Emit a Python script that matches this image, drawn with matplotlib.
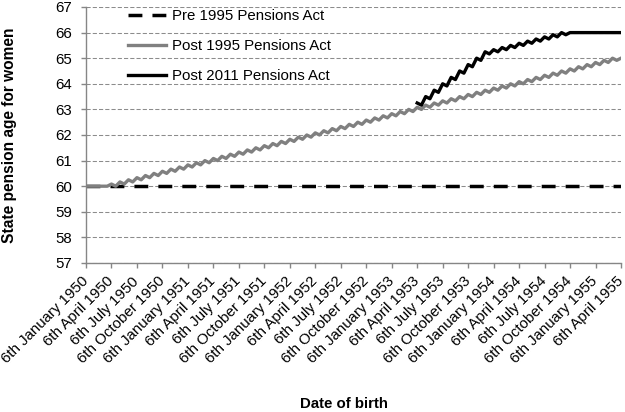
import numpy as np
import matplotlib
matplotlib.use('Agg')
import matplotlib.pyplot as plt
import matplotlib.transforms as mtransforms

plt.rcParams['font.family'] = ['Liberation Sans', 'DejaVu Sans']

# pension age in months above 60, one value per monthly birth cohort
# (cohort = born 6th of a month to 5th of the next month)
# *_start : born on the 6th, *_end : born on the 5th of the following month
# Post 1995 act, cohorts Jan 1950 .. Apr 1955
post1995_start = [0, 0, 0, 1, 2, 3, 4, 5, 6, 7, 8, 9,
                  10, 11, 12, 13, 14, 15, 16, 17, 18, 19, 20, 21,
                  22, 23, 24, 25, 26, 27, 28, 29, 30, 31, 32, 33,
                  34, 35, 36, 37, 38, 39, 40, 41, 42, 43, 44, 45,
                  46, 47, 48, 49, 50, 51, 52, 53, 54, 55, 56, 57,
                  58, 59, 60, 60]
post1995_end = [0, 0, 0, 0, 1, 2, 3, 4, 5, 6, 7, 8,
                9, 10, 11, 12, 13, 14, 15, 16, 17, 18, 19, 20,
                21, 22, 23, 24, 25, 26, 27, 28, 29, 30, 31, 32,
                33, 34, 35, 36, 37, 38, 39, 40, 41, 42, 43, 44,
                45, 46, 47, 48, 49, 50, 51, 52, 53, 54, 55, 56,
                57, 58, 59]
# Post 2011 act, cohorts Apr 1953 .. Apr 1955
post2011_first = 39   # cohort index of 6th April 1953
post2011_start = [39, 42, 45, 48, 51, 54, 57, 60, 63,
                  64, 65, 66, 67, 68, 69, 70, 71, 72, 72, 72, 72,
                  72, 72, 72, 72]
post2011_end = [38, 41, 44, 47, 50, 53, 56, 59, 62,
                63, 64, 65, 66, 67, 68, 69, 70, 71, 72, 72, 72,
                72, 72, 72]
pre1995_age = 60

tick_labels = ['6th January 1950', '6th April 1950', '6th July 1950', '6th October 1950',
               '6th January 1951', '6th April 1951', '6th July 1951', '6th October 1951',
               '6th January 1952', '6th April 1952', '6th July 1952', '6th October 1952',
               '6th January 1953', '6th April 1953', '6th July 1953', '6th October 1953',
               '6th January 1954', '6th April 1954', '6th July 1954', '6th October 1954',
               '6th January 1955', '6th April 1955']


def zigzag(start, end):
    '''interleave cohort start/end values and convert to years'''
    pts = []
    for i in range(len(start)):
        pts.append(start[i])
        if i < len(end):
            pts.append(end[i])
    return 60 + np.array(pts) / 12.0


y1995 = zigzag(post1995_start, post1995_end)
x1995 = np.arange(len(y1995))
y2011 = zigzag(post2011_start, post2011_end)
x2011 = np.arange(len(y2011)) + 2 * post2011_first
ypre = np.full(len(y1995), pre1995_age)

fig = plt.figure(figsize=(6.25, 4.12), dpi=100)
ax = fig.add_axes([86 / 625, 1 - 263 / 412, (621 - 86) / 625, (263 - 7) / 412])

fs = 10.8
ax.plot(x1995, ypre, color='black', lw=2.5, linestyle=(0, (4, 2.9)),
        dash_capstyle='butt', label='Pre 1995 Pensions Act', zorder=2)
ax.plot(x1995, y1995, color='#808080', lw=2.4, label='Post 1995 Pensions Act', zorder=3)
ax.plot(x2011, y2011, color='black', lw=2.4, label='Post 2011 Pensions Act', zorder=4)

ax.set_xlim(0, len(y1995) - 1)
ax.set_ylim(57, 67)
ax.set_yticks(range(57, 68))
ax.set_xticks(np.arange(0, len(y1995), 6))
ax.set_xticklabels(tick_labels, rotation=45, ha='right', va='center',
                   rotation_mode='anchor', fontsize=fs)
shift = mtransforms.ScaledTranslation(-7 / 100, 0, fig.dpi_scale_trans)
for lab in ax.get_xticklabels():
    lab.set_transform(lab.get_transform() + shift)
ax.tick_params(axis='y', labelsize=fs, direction='out', length=3.6, width=1,
               color='#868686', pad=6.5)
ax.tick_params(axis='x', direction='out', length=3.6, width=1, color='#868686', pad=8)

ax.yaxis.grid(True, linestyle=(0, (4, 2)), color='#8c8c8c', lw=0.75)
ax.set_axisbelow(True)
for s in ['top', 'right']:
    ax.spines[s].set_visible(False)
for s in ['left', 'bottom']:
    ax.spines[s].set_color('#868686')
    ax.spines[s].set_linewidth(1.0)

fig.text(10 / 625, 1 - 135 / 412, 'State pension age for women', rotation=90,
         ha='center', va='center', fontsize=11.2, fontweight='bold')
fig.text(344 / 625, 1 - 404 / 412, 'Date of birth', ha='center', va='center',
         fontsize=fs, fontweight='bold')

ax.legend(loc='upper left', bbox_to_anchor=(128 / 625, 1 - 9 / 412),
          bbox_transform=fig.transFigure, frameon=False, fontsize=fs,
          borderpad=0, borderaxespad=0, handlelength=2.5, handletextpad=0.4,
          labelspacing=1.08)

fig.savefig('out.png', dpi=100)
